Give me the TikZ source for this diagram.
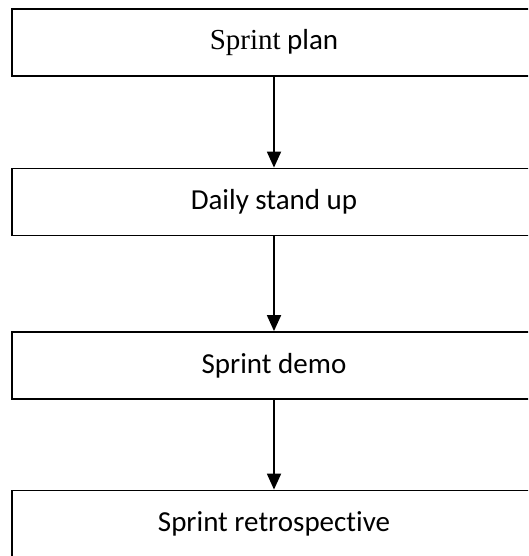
\documentclass[tikz,border=0pt]{standalone}
\usepackage{fontspec}
\setmainfont{Carlito}[Ligatures=NoCommon]
\newfontfamily\timesfont{Liberation Serif}
\usetikzlibrary{arrows.meta}

\begin{document}
\begin{tikzpicture}[x=1pt,y=-1pt,
        stagebox/.style={draw, line width=1.8pt, minimum width=524pt, minimum height=67pt, inner sep=0pt, font=\fontsize{29}{34}\selectfont},
        flow/.style={line width=1.8pt, -{Triangle[length=16pt,width=14pt]}}]
            \clip (0,0) rectangle (528,556);
            \node[stagebox] (plan) at (274,42.75) {{\timesfont Sprint} plan};
            \node[stagebox] (standup) at (274,202) {Daily stand up};
            \node[stagebox] (demo) at (274,365.5) {Sprint demo};
            \node[stagebox] (retro) at (274,524) {Sprint retrospective};
            \draw[flow] (plan) -- (standup);
            \draw[flow] (standup) -- (demo);
            \draw[flow] (demo) -- (retro);
\end{tikzpicture}
\end{document}
